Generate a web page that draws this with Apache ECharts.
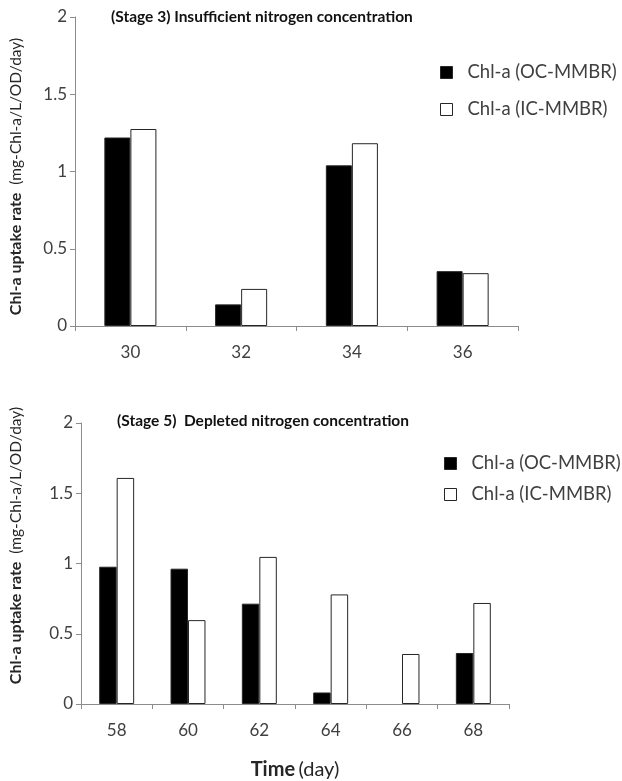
<!DOCTYPE html>
<html>
<head>
<meta charset="utf-8">
<script src="https://cdn.jsdelivr.net/npm/echarts@6/dist/echarts.min.js"></script>
<style>html,body{margin:0;padding:0;background:#fff}#c{width:622px;height:781px}</style>
</head>
<body>
<div id="c"></div>
<script>
const daysTop = ['30', '32', '34', '36'];
const ocTop = [1.22, 0.14, 1.04, 0.355];
const icTop = [1.275, 0.24, 1.183, 0.342];

const daysBottom = ['58', '60', '62', '64', '66', '68'];
const ocBottom = [0.977, 0.963, 0.714, 0.082, 0, 0.363];
const icBottom = [1.609, 0.597, 1.047, 0.78, 0.356, 0.719];

const yTicks = [0, 0.5, 1, 1.5, 2];
const seriesNames = ['Chl-a (OC-MMBR)', 'Chl-a (IC-MMBR)'];

const FONT = 'Lato, "Open Sans", sans-serif';
const axisGray = '#8c8c8c';
const labelColor = '#404040';

function yAxis(gridIndex, gap, pad) {
  return {
    type: 'value', gridIndex, min: yTicks[0], max: yTicks[yTicks.length - 1], interval: yTicks[1] - yTicks[0],
    axisLine: { show: true, lineStyle: { color: axisGray } },
    axisTick: { show: true, inside: false, length: 5, lineStyle: { color: axisGray } },
    splitLine: { show: false },
    axisLabel: { color: labelColor, fontFamily: FONT, fontSize: 17, margin: 8,
      formatter: v => String(v) },
    name: '{b|Chl-a uptake rate}{n|  (mg-Chl-a/L/OD/day)}',
    nameLocation: 'middle', nameGap: gap, nameRotate: 90,
    nameTextStyle: { padding: pad,
      rich: {
        b: { fontFamily: FONT, fontWeight: 'bold', fontSize: 16, color: '#262626' },
        n: { fontFamily: FONT, fontSize: 15.5, color: '#262626' }
      } }
  };
}
function xAxis(gridIndex, cats, name) {
  const a = {
    type: 'category', gridIndex, data: cats,
    axisLine: { show: true, lineStyle: { color: axisGray } },
    axisTick: { show: true, length: 5, lineStyle: { color: axisGray } },
    axisLabel: { color: labelColor, fontFamily: FONT, fontSize: 17, margin: 18 },
    splitLine: { show: false }
  };
  if (name) {
    a.name = '{b|Time} {n|(day)}';
    a.nameLocation = 'middle';
    a.nameGap = 56;
    a.nameTextStyle = { rich: {
      b: { fontFamily: FONT, fontWeight: 'bold', fontSize: 20, color: '#262626' },
      n: { fontFamily: FONT, fontSize: 20, color: '#262626' } } };
  }
  return a;
}
function bars(name, values, idx, color, gap) {
  return {
    type: 'bar', name,
    data: values.map(v => ({ value: v, itemStyle: { borderWidth: v === 0 ? 0 : 1 } })),
    xAxisIndex: idx, yAxisIndex: idx,
    barGap: '0%', barCategoryGap: gap,
    itemStyle: { color, borderColor: '#262626', borderWidth: 1 },
    emphasis: { disabled: true }, animation: false
  };
}
function legend(left, top, gap, names) {
  return {
    left, top, data: names, padding: 0,
    orient: 'vertical', itemWidth: 12, itemHeight: 12, itemGap: gap,
    textStyle: { fontFamily: FONT, fontSize: 18.5, lineHeight: 18, color: labelColor, padding: [0, 0, 0, 10] },
    icon: 'rect', selectedMode: false,
    itemStyle: { borderColor: '#262626', borderWidth: 1 }
  };
}

const chart = echarts.init(document.getElementById('c'), null, { renderer: 'canvas' });
chart.setOption({
  animation: false,
  backgroundColor: '#fff',
  title: [
    { text: '(Stage 3) Insufficient nitrogen concentration', left: 106, top: 4,
      textStyle: { fontFamily: FONT, fontWeight: 'bold', fontSize: 15.5, color: '#111' } },
    { text: '(Stage 5)  Depleted nitrogen concentration', left: 112, top: 408,
      textStyle: { fontFamily: FONT, fontWeight: 'bold', fontSize: 15.5, color: '#111' } }
  ],
  legend: [
    legend(440, 63, 18, seriesNames.slice()),
    legend(444, 454, 12, seriesNames.map(n => n + ' '))
  ],
  grid: [
    { left: 71, top: 17, width: 447, height: 309 },
    { left: 77, top: 423, width: 432, height: 284 }
  ],
  xAxis: [xAxis(0, daysTop, false), xAxis(1, daysBottom, true)],
  yAxis: [yAxis(0, 51, [0, 10, 0, 0]), yAxis(1, 57, [0, 0, 0, 36])],
  series: [
    bars(seriesNames[0], ocTop, 0, '#000', '53%'),
    bars(seriesNames[1], icTop, 0, '#fff', '53%'),
    bars(seriesNames[0] + ' ', ocBottom, 1, '#000', '51%'),
    bars(seriesNames[1] + ' ', icBottom, 1, '#fff', '51%')
  ]
});
</script>
</body>
</html>
